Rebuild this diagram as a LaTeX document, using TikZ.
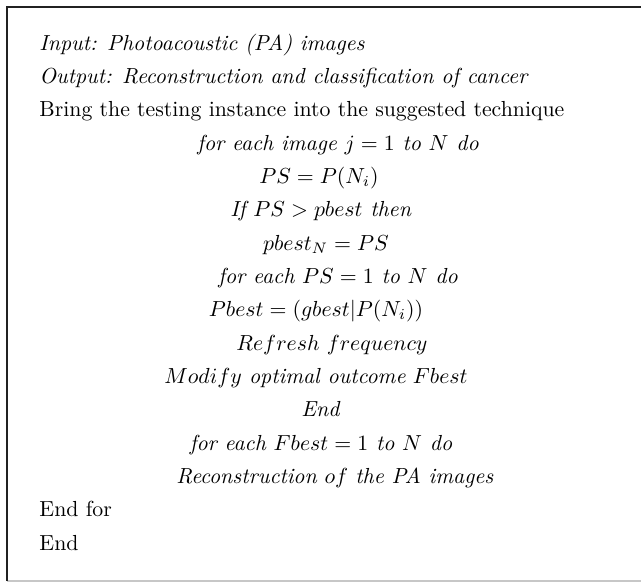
\documentclass[tikz,border=0pt]{standalone}
\begin{document}
\begin{tikzpicture}[x=0.459pt,y=-0.459pt,
  lefttext/.style={anchor=base west,inner sep=0pt,font=\fontsize{10}{12}\selectfont},
  midtext/.style={anchor=base,inner sep=0pt,font=\fontsize{10}{12}\selectfont},
  edgedark/.style={draw=black!87,line width=0.9pt},
  edgelight/.style={draw=black!22,line width=0.7pt}]
  \useasboundingbox (0,0) rectangle (641,582);
  % frame: dark top and left edges, light bottom edge
  \draw[edgelight] (7,581) -- (641,581);
  \draw[edgedark] (641,7) -- (7,7) -- (7,581);
  % algorithm lines
  \node[lefttext] (l1) at (39,50) {\textit{Input: Photoacoustic (PA) images}};
  \node[lefttext] (l2) at (39,83.3) {\textit{Output: Reconstruction and classification of cancer}};
  \node[lefttext] (l3) at (39,116.7) {Bring the testing instance into the suggested technique};
  \node[midtext] (l4) at (338,150) {\textit{for each image $j = 1$ to $N$ do}};
  \node[midtext] (l5) at (319,183.3) {$PS = P(N_i)$};
  \node[midtext] (l6) at (321,216.7) {\textit{If $PS > pbest$ then}};
  \node[midtext] (l7) at (326,250) {$pbest_N = PS$};
  \node[midtext] (l8) at (338,283.3) {\textit{for each $PS = 1$ to $N$ do}};
  \node[midtext] (l9) at (316,316.7) {$Pbest = (gbest|P(N_i))$};
  \node[midtext] (l10) at (332,350) {$Refresh\ frequency$};
  \node[midtext] (l11) at (316,383.3) {$Modify$ \textit{optimal outcome} $Fbest$};
  \node[midtext] (l12) at (321,416.7) {\textit{End}};
  \node[midtext] (l13) at (321,450) {\textit{for each $Fbest = 1$ to $N$ do}};
  \node[midtext] (l14) at (335,483.3) {\textit{Reconstruction} $of$ \textit{the PA images}};
  \node[lefttext] (l15) at (39,516.7) {End for};
  \node[lefttext] (l16) at (39,550) {End};
\end{tikzpicture}
\end{document}
